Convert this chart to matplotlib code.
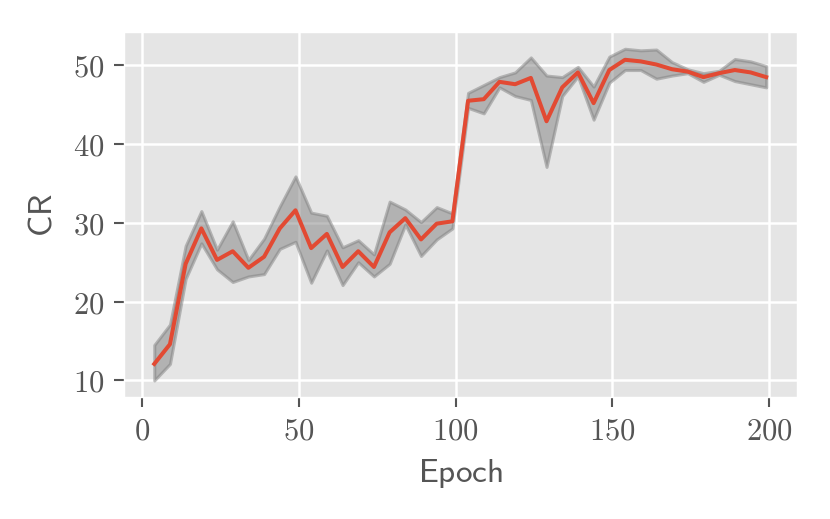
import numpy as np
from matplotlib import pyplot as plt
from matplotlib.ticker import FuncFormatter

plt.style.use("ggplot")
plt.rcParams["mathtext.fontset"] = "cm"

# epochs sampled every 5
epochs = list(range(4, 200, 5))

cr_mean = [12.1, 14.6, 24.8, 29.3, 25.3, 26.4, 24.3, 25.7, 29.3, 31.6,
           26.8, 28.6, 24.4, 26.4, 24.4, 28.8, 30.6, 27.9, 29.9, 30.2,
           45.5, 45.7, 47.9, 47.6, 48.4, 42.9, 47.2, 49.1, 45.2, 49.4,
           50.7, 50.5, 50.1, 49.5, 49.2, 48.5, 49.0, 49.4, 49.1, 48.5]
cr_upper = [14.5, 17.1, 27.1, 31.5, 26.6, 30.2, 25.3, 28.0, 32.1, 35.9,
            31.3, 30.9, 26.9, 27.8, 26.0, 32.7, 31.7, 30.1, 32.0, 31.2,
            46.5, 47.5, 48.5, 49.1, 51.0, 48.7, 48.5, 49.8, 47.3, 51.1,
            52.1, 51.9, 52.0, 50.4, 49.5, 49.0, 49.3, 50.8, 50.5, 49.9]
cr_lower = [10.0, 12.1, 22.9, 27.4, 24.1, 22.5, 23.2, 23.5, 26.7, 27.6,
            22.4, 26.5, 22.1, 25.0, 23.2, 24.8, 29.8, 25.8, 27.9, 29.3,
            44.6, 43.9, 47.2, 46.1, 45.6, 37.1, 46.1, 48.6, 43.1, 47.8,
            49.4, 49.4, 48.3, 48.7, 49.0, 47.9, 48.8, 48.0, 47.6, 47.2]

xticks = [0, 50, 100, 150, 200]
yticks = [10, 20, 30, 40, 50]

fig = plt.figure(figsize=(8.3, 5.19), dpi=100)
ax = fig.add_axes([0.149, 0.235, 0.811, 0.703])

ax.fill_between(epochs, cr_lower, cr_upper, color="gray", alpha=0.5, linewidth=2.2)
ax.plot(epochs, cr_mean, color="#E24A33", linewidth=2.9)

ax.set_xticks(xticks)
ax.set_yticks(yticks)
fmt = FuncFormatter(lambda v, _: "$%g$" % v)
ax.xaxis.set_major_formatter(fmt)
ax.yaxis.set_major_formatter(fmt)
ax.tick_params(labelsize=22, colors="#555555", length=7, width=1.5, pad=7)
ax.grid(color="white", linewidth=1.8)

ax.set_xlabel(r"$\mathsf{Epoch}$", fontsize=24, color="#555555", labelpad=8)
ax.set_ylabel(r"$\mathsf{CR}$", fontsize=24, color="#555555", labelpad=10)

fig.savefig("out.png", dpi=100)
